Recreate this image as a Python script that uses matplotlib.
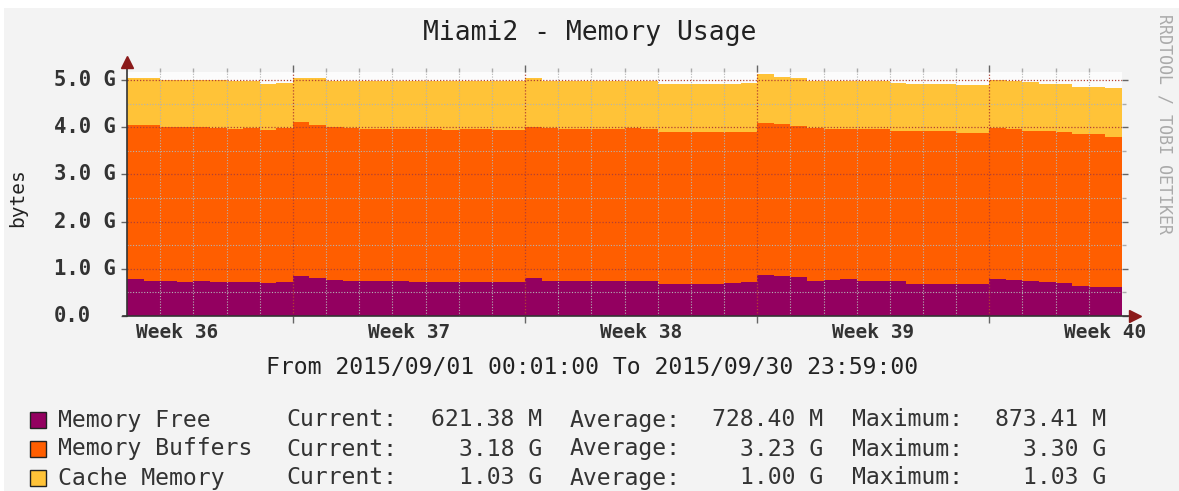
import numpy as np
import matplotlib
matplotlib.use("Agg")
import matplotlib.pyplot as plt
from matplotlib.patches import Rectangle
from matplotlib.lines import Line2D
from matplotlib.transforms import blended_transform_factory

# Memory usage in GB, one sample every 12 hours from 2015/09/01 00:01
free = [0.79, 0.75, 0.74, 0.73, 0.74, 0.73, 0.72, 0.72, 0.69, 0.72,
        0.85, 0.81, 0.76, 0.75, 0.74, 0.75, 0.74, 0.73, 0.72, 0.71,
        0.71, 0.71, 0.71, 0.72, 0.80, 0.75, 0.75, 0.75, 0.75, 0.75,
        0.74, 0.74, 0.68, 0.67, 0.67, 0.67, 0.69, 0.71, 0.87341, 0.85,
        0.82, 0.75, 0.76, 0.78, 0.75, 0.75, 0.74, 0.68, 0.68, 0.68,
        0.68, 0.68, 0.79, 0.76, 0.75, 0.71, 0.70, 0.63, 0.62, 0.62138]
buffers = [3.26, 3.30, 3.27, 3.27, 3.26, 3.26, 3.24, 3.27, 3.26, 3.26,
           3.25, 3.23, 3.25, 3.24, 3.23, 3.22, 3.23, 3.24, 3.25, 3.23,
           3.26, 3.26, 3.24, 3.23, 3.21, 3.23, 3.22, 3.22, 3.22, 3.22,
           3.24, 3.22, 3.21, 3.22, 3.22, 3.22, 3.20, 3.19, 3.22, 3.21,
           3.21, 3.23, 3.21, 3.19, 3.22, 3.21, 3.17, 3.23, 3.23, 3.23,
           3.19, 3.19, 3.19, 3.20, 3.18, 3.20, 3.20, 3.23, 3.23, 3.18]
cache = [0.99, 0.99, 0.99, 0.99, 1.01, 1.01, 1.02, 0.99, 0.97, 0.95,
         0.95, 1.00, 0.97, 0.99, 1.01, 1.01, 1.01, 1.01, 1.01, 1.03,
         1.01, 1.01, 1.03, 1.03, 1.03, 1.00, 1.01, 1.01, 1.01, 1.01,
         0.99, 1.01, 1.03, 1.03, 1.03, 1.03, 1.03, 1.03, 1.03, 1.01,
         1.01, 0.99, 1.00, 1.00, 1.00, 1.01, 1.03, 1.01, 1.01, 1.01,
         1.03, 1.03, 1.03, 1.01, 1.03, 1.01, 1.01, 1.00, 1.00, 1.03]
sample_days = 0.5

series_names = ["Memory Free", "Memory Buffers", "Cache Memory"]
series_colors = ["#930060", "#FF5E00", "#FFC338"]
current_txt = ["621.38 M", "3.18 G", "1.03 G"]
average_txt = ["728.40 M", "3.23 G", "1.00 G"]
maximum_txt = ["873.41 M", "3.30 G", "1.03 G"]

y_ticks = [0, 1, 2, 3, 4, 5]
y_tick_labels = ["0.0", "1.0 G", "2.0 G", "3.0 G", "4.0 G", "5.0 G"]
week_labels = ["Week 36", "Week 37", "Week 38", "Week 39", "Week 40"]
week_label_days = [1.5, 8.5, 15.5, 22.5, 29.5]
week_start_days = [5, 12, 19, 26]
total_days = 30

W, H = 1179, 491
MONO = "DejaVu Sans Mono"

fig = plt.figure(figsize=(W / 100, H / 100), dpi=100, facecolor="white")
fig.patches.append(Rectangle((4 / W, 0), 1, 1 - 8 / H, transform=fig.transFigure,
                             facecolor="#F3F3F3", edgecolor="none", zorder=-10))

L, R, B, T = 127, 1122, 316, 72
ax = fig.add_axes([L / W, 1 - B / H, (R - L) / W, (B - T) / H])
ax.set_facecolor("#FCFCFC")

edges = np.arange(len(free) + 1) * sample_days
f = np.asarray(free)
b = np.asarray(buffers)
c = np.asarray(cache)
levels = [np.zeros_like(f), f, f + b, f + b + c]
for i in range(3):
    lo = np.append(levels[i], levels[i][-1])
    hi = np.append(levels[i + 1], levels[i + 1][-1])
    ax.fill_between(edges, lo, hi, step="post", color=series_colors[i],
                    linewidth=0, zorder=1)

ax.set_xlim(0, total_days)
ax.set_ylim(0, 5.17)

# grid
ax.set_xticks(week_start_days)
ax.set_xticks(np.arange(1, total_days), minor=True)
ax.set_yticks(y_ticks)
ax.set_yticks(np.arange(0.5, 5.1, 0.5), minor=True)
ax.set_xticklabels([])
ax.set_yticklabels([])
ax.set_axisbelow(False)
ax.grid(which="minor", color=(0.7, 0.7, 0.7, 0.28), linestyle=(0, (1, 1.5)), linewidth=0.8)
ax.grid(which="major", color=(0.7, 0.25, 0.2, 0.32), linestyle=(0, (1, 1.5)), linewidth=0.9)
ax.tick_params(axis="x", which="major", bottom=True, top=True, direction="out",
               length=5, width=1, color="#666666")
ax.tick_params(axis="x", which="minor", bottom=False, top=True, direction="out",
               length=3, width=1, color="#AAAAAA")
ax.tick_params(axis="y", which="major", left=True, right=True, direction="out",
               length=4, width=1, color="#666666")
ax.tick_params(axis="y", which="minor", left=False, right=True, direction="out",
               length=3, width=1, color="#AAAAAA")
for s in ax.spines.values():
    s.set_visible(False)

# axes with arrow heads
ax.add_line(Line2D([0, 0], [0, 1.03], transform=ax.transAxes, color="#333333",
                   linewidth=1.2, clip_on=False, zorder=5))
ax.add_line(Line2D([-0.004, 1.008], [0, 0], transform=ax.transAxes, color="#333333",
                   linewidth=1.2, clip_on=False, zorder=5))
ax.plot([0], [1.04], marker="^", markersize=8, color="#8B1A1A", transform=ax.transAxes,
        clip_on=False, zorder=6)
ax.plot([1.013], [0], marker=">", markersize=8, color="#8B1A1A", transform=ax.transAxes,
        clip_on=False, zorder=6)

# tick labels
ytr = blended_transform_factory(fig.transFigure, ax.transData)
for v, lab in zip(y_ticks, y_tick_labels):
    fig.text(54 / W, v, lab, transform=ytr, ha="left", va="center",
             family=MONO, fontsize=14.8, fontweight="bold", color="#333333")
xtr = blended_transform_factory(ax.transData, fig.transFigure)
for d, lab in zip(week_label_days, week_labels):
    fig.text(d, 1 - 333 / H, lab, transform=xtr, ha="center", va="center",
             family=MONO, fontsize=14, fontweight="bold", color="#333333")

fig.text(590 / W, 1 - 33 / H, "Miami2 - Memory Usage", ha="center", va="center",
         family=MONO, fontsize=19, color="#222222")
fig.text(18 / W, 1 - 198 / H, "bytes", ha="center", va="center", rotation=90,
         family=MONO, fontsize=14, color="#222222")
fig.text(1165 / W, 1 - 124 / H, "RRDTOOL / TOBI OETIKER", ha="center", va="center",
         rotation=270, family=MONO, fontsize=12, color="#AAAAAA")
fig.text(592 / W, 1 - 367 / H, "From 2015/09/01 00:01:00 To 2015/09/30 23:59:00",
         ha="center", va="center", family=MONO, fontsize=16.7, color="#222222")

# legend
row_y = [420, 449, 478]
for i in range(3):
    yy = 1 - row_y[i] / H
    fig.patches.append(Rectangle((30 / W, yy - 8 / H), 16 / W, 16 / H,
                                 transform=fig.transFigure, facecolor=series_colors[i],
                                 edgecolor="#222222", linewidth=1))
    kw = dict(va="center", family=MONO, fontsize=16.7, color="#333333")
    fig.text(58 / W, yy, series_names[i], ha="left", **kw)
    fig.text(286 / W, yy, "Current:", ha="left", **kw)
    fig.text(542 / W, yy, current_txt[i], ha="right", **kw)
    fig.text(570 / W, yy, "Average:", ha="left", **kw)
    fig.text(823 / W, yy, average_txt[i], ha="right", **kw)
    fig.text(852 / W, yy, "Maximum:", ha="left", **kw)
    fig.text(1106 / W, yy, maximum_txt[i], ha="right", **kw)

fig.savefig("out.png", dpi=100, facecolor=fig.get_facecolor())
